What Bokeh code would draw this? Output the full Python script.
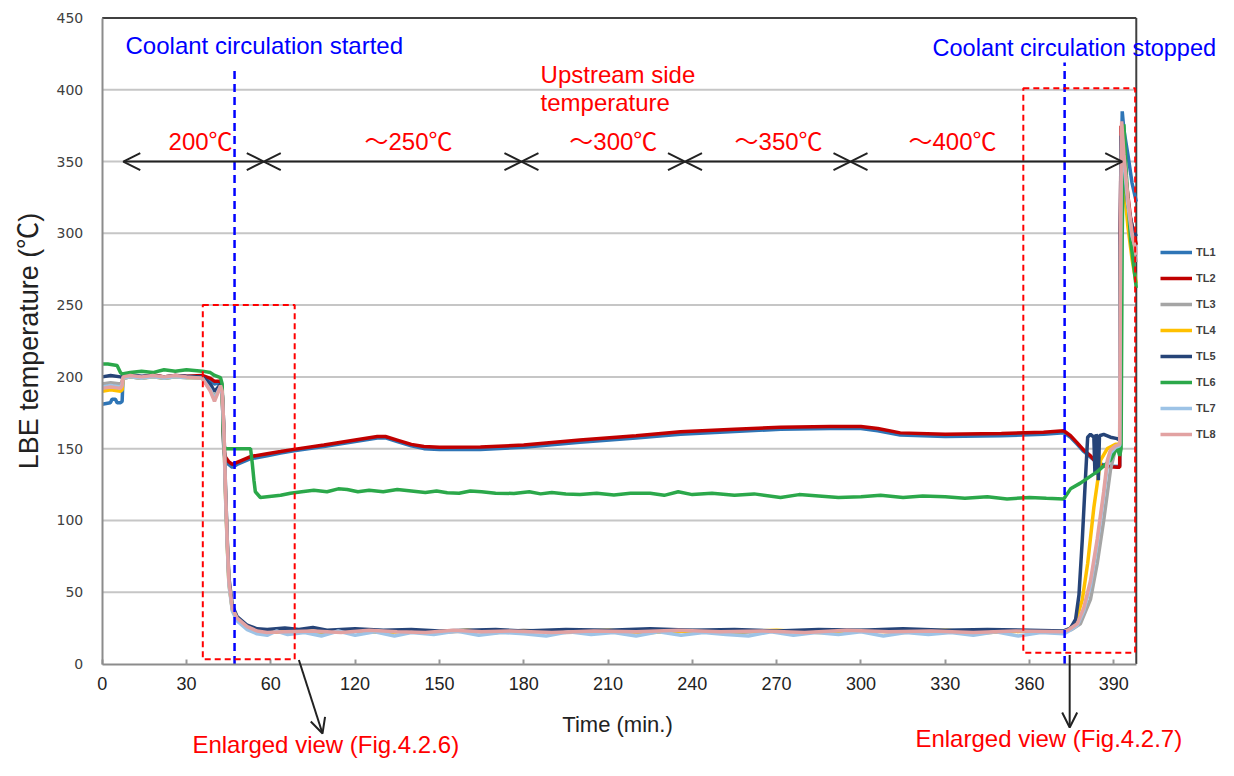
import math
from bokeh.plotting import figure
from bokeh.models import (Label, Arrow, OpenHead, BoxAnnotation, Legend,
                          LegendItem, FixedTicker)
from bokeh.embed import file_html
from bokeh.resources import INLINE

# ---------------- data (time on axis scale, temperature in degC) ----------------
x_tick_positions = [0, 30, 60, 90, 120, 150, 180, 210, 240, 270, 300, 330, 360]
x_tick_labels = ["0", "30", "60", "120", "150", "180", "210", "240", "270",
                 "300", "330", "360", "390"]
y_ticks = [0, 50, 100, 150, 200, 250, 300, 350, 400, 450]
time_end = 368
temp_top = 450

series_names = ["TL1", "TL2", "TL3", "TL4", "TL5", "TL6", "TL7", "TL8"]

TL1 = [(0,181),(2.9,182),(3.5,184.5),(4.7,184.5),(5.3,182),(6.5,182),(7.1,183),(7.4,199),
       (10,200),(14,199),(18,200.5),(22,199),(26,200),(30,199.5),(35.6,200),(38.5,198),
       (39.9,195),(42.1,196),(42.7,190),(43.3,147),(43.9,142),(45,139),(46.3,137),(48,139),
       (52.8,143),(58.7,145),(63.5,147),(68.2,148.5),(78.9,151.5),(90,155),(97.9,157.5),
       (100.8,157.5),(105,155),(110,152),(114.5,150),(120,149.5),(134.6,149.5),(150,151),
       (170,154.5),(190,157.5),(205.8,160),(225,162),(241.4,163.5),(259,164),(270,164),
       (276,162.5),(284,159.5),(300,158.5),(320,159),(335,160),(342.2,161),(344.6,158),
       (347,153),(349.3,148),(351.7,144),(354.1,140),(357.7,138),(361.2,137.5),(362.1,138),
       (362.6,330),(363.0,385),(363.6,372),(365,355),(366.5,335),(368,322)]

TL2 = [(0,194),(3,195),(6.5,195),(7.1,196),(7.4,200),(10,201),(14,200),(18,201.5),(22,200),
       (26,201),(30,200.5),(35.6,201),(38.5,199),(39.9,197),(42.1,197),(42.7,190),(43.3,149),
       (43.9,144),(45,141),(46.3,139),(48,140.5),(52.8,144.5),(58.7,146.5),(63.5,148),
       (68.2,149.5),(78.9,152.5),(90,156),(97.9,158.5),(100.8,158.5),(105,156),(110,153),
       (114.5,151.5),(120,151),(134.6,151.2),(150,152.5),(170,156),(190,159),(205.8,161.8),
       (225,163.5),(241.4,165),(259,165.5),(270,165.5),(276,164),(284,161),(300,160),
       (320,160.5),(335,161.5),(342.2,162.5),(344.6,159),(347,154),(349.3,149),(351.7,145),
       (353.5,141),(354.1,139),(357.7,137.5),(361.2,137),(362.1,137),(362.3,300),(362.6,375),
       (363.2,360),(364.5,335),(366,310),(368,292)]

TL3 = [(0,195),(3,196),(6.5,195),(7.1,196),(7.4,200),(10,200.5),(14,199.5),(18,200.5),
       (22,199.5),(26,200.5),(30,200),(35.6,199.5),(38.5,192),(39.96,186),(41,190),(42.1,194),
       (42.7,189),(43.3,162),(43.9,118),(44.5,84),(45.1,57),(46.3,38),(48,31),(51.6,25),
       (55.1,22.5),(58.7,22),(70,23),(80,22),(90,23),(100,22),(110,23.5),(120,22),(130,23),
       (140,22),(150,23.5),(165,22),(180,23),(195,22),(210,23.5),(225,22),(240,23),
       (255,22.5),(270,23.5),(285,22),(300,23),(315,22),(330,23),(342.2,22.5),(345,24),
       (348.1,28),(351.7,45),(354.1,70),(356.4,100),(358.8,135),(360.6,150),(362.1,154),
       (362.4,290),(362.8,370),(363.6,345),(365,315),(366.5,293),(368,280)]

TL4 = [(0,190),(3,191),(6.5,190),(7.1,191),(7.4,199),(10,200),(14,199),(18,200),(22,199),
       (26,200),(30,199.5),(35.6,199),(38.5,191),(39.96,185),(41,189),(42.1,193),(42.7,188),
       (43.3,161),(43.9,117),(44.5,83),(45.1,56),(46.3,38),(48,31),(51.6,25),(55.1,22.5),
       (58.7,22),(70,23),(80,22.5),(90,23.5),(100,22),(110,23),(120,22.5),(130,23.5),
       (140,22),(150,23),(165,22.5),(180,23.5),(195,22),(210,23),(225,22.5),(240,23.5),
       (255,22),(270,23),(285,22.5),(300,23.5),(315,22),(330,23),(342.2,22.5),(344,24),
       (346.4,29),(348.8,45),(350.7,70),(352.9,109),(355.3,142),(357.7,150),(360.6,153),
       (362.1,153),(362.4,280),(362.8,365),(363.6,335),(365,305),(366.5,282),(368,265)]

TL5 = [(0,200),(3,201),(6.5,200),(7.1,200),(7.4,201),(10,201.5),(14,200.5),(18,201),
       (22,200),(26,201),(30,200.5),(35.6,200),(38.5,195),(39.96,190),(41,192),(42.1,195),
       (42.7,190),(43.3,165),(43.9,122),(44.5,87),(45.1,60),(46.3,41),(48,33),(51.6,27),
       (55.1,24.5),(58.7,24),(65,25),(70,24),(75,25.5),(80,23.5),(90,24.5),(100,23.5),
       (110,24),(120,23),(130,23.5),(140,24),(150,23),(165,24),(180,23.5),(195,24.5),
       (210,23.5),(225,24),(240,23),(255,24),(270,23.5),(285,24.5),(300,23.5),(315,24),
       (330,23.5),(342.2,23),(344.6,25),(346.4,31),(347.6,48),(348.8,87),(349.9,129),
       (350.7,158),(351.7,160),(352.9,158),(353.3,132),(353.7,160),(354.1,157),(354.5,128),
       (354.9,159),(356.4,160),(358.8,158),(361.2,157),(362.1,156),(362.3,300),(362.6,368),
       (363.6,345),(365,320),(366.5,305),(368,298)]

TL6 = [(0,209),(2,209),(5.3,208),(6.5,203),(7.1,202),(10,203),(14,204),(18,203),(22,205),
       (26,204),(30,205),(35.6,204),(38.5,203),(40,201),(42.1,199.5),(42.7,195),(43,165),
       (43.3,152),(43.9,150),(48,150),(52.8,150),(53.4,140),(54,128),(54.5,120),(56.3,116),
       (58.7,116.5),(63.5,117.5),(67,119),(71,120),(75.3,121),(80,120),(84,122),(87.2,121.5),
       (91,120),(95,121),(100,120),(105,121.5),(110,120.5),(115,119.5),(119,120.5),
       (122.8,119.3),(127,119),(131,120.5),(135,120),(140,119),(146.5,118.8),(152,120),
       (156,118.5),(160,119.5),(165,118.5),(170,118),(176,119),(182.1,117.7),(188,119),
       (195,119),(200,117.5),(205,120),(210,118),(217,119),(225,117.5),(232,118.5),
       (241.4,116),(248,118),(255,117),(262,116),(270,116.5),(277,117.5),(285,116),
       (292,117),(300,116.5),(307,115.5),(315,116.5),(322,115),(330,116),(336,115.5),
       (342.2,115),(344.6,122),(348.1,126),(354.1,134),(358.8,142),(361.2,151),(362.1,145),
       (362.6,150),(363.0,300),(363.6,376),(364.5,340),(366,295),(368,262)]

TL7 = [(0,193),(3,194),(6.5,193),(7.1,195),(7.4,199),(10,200),(14,199),(18,200),(22,199),
       (26,200),(30,199.5),(35.6,199),(38.5,191),(39.96,185),(41,189),(42.1,193),(42.7,188),
       (43.3,160),(43.9,115),(44.5,82),(45.1,55),(46.3,37),(48,30),(51.6,24),(55.1,21),
       (58.7,20),(62,23),(66,20.5),(72,22),(78,19.5),(84,23),(90,20),(97,22.5),(104,19.5),
       (110,22),(118,20.5),(126,23),(134,20),(142,22),(150,21),(158,19.5),(166,22.5),
       (174,20.5),(182,22),(190,19.5),(198,22.5),(206,20),(214,22),(222,20.5),(230,19.5),
       (238,22.5),(246,20),(254,22),(262,20.5),(270,22.5),(278,19.5),(286,22),(294,20.5),
       (302,22),(310,20),(318,22.5),(326,19.5),(334,22),(342.2,21),(344,23),(347,27),
       (349.3,37),(351.7,55),(354.1,84),(356.4,117),(357.7,138),(358.8,147),(360.6,151),
       (362.1,152),(362.4,290),(362.8,372),(363.6,350),(365,320),(366.5,298),(368,288)]

TL8 = [(0,192),(3,193),(6.5,192),(7.1,194),(7.4,200),(10,201),(14,200),(18,201),(22,200),
       (26,201),(30,200),(35.6,199),(38.5,190),(39.96,183),(41,188),(42.1,194),(42.7,190),
       (43.3,165),(43.9,120),(44.5,85),(45.1,58),(46.3,39),(48,32),(51.6,26),(55.1,23),
       (58.7,22),(65,22.5),(75,23),(85,22),(95,23.5),(105,22.5),(115,22),(125,23.5),
       (135,22.5),(145,23),(160,22),(175,23),(190,22.5),(205,23.5),(220,22.5),(235,23),
       (250,22),(265,23.5),(280,22.5),(295,23),(310,22),(325,23),(342.2,22.5),(344,24),
       (347,28),(349.3,39),(351.7,58),(354.1,87),(356.4,120),(357.7,142),(358.8,149),
       (360.6,152),(362.1,153),(362.4,300),(362.8,378),(363.6,355),(365,325),(366.5,300),
       (368,285)]

series_data = [TL1, TL2, TL3, TL4, TL5, TL6, TL7, TL8]
series_colors = ["#2E75B6", "#C00000", "#A5A5A5", "#FFC000", "#264478", "#2BA84A",
                 "#9DC3E6", "#E2A2A2"]

range_bounds = [7.5, 57.5, 149.2, 207.4, 266.3, 363.0]
range_labels = ["200℃", "～250℃", "～300℃", "～350℃", "～400℃"]
range_label_x = [35.0, 109.0, 181.9, 240.7, 302.6]

coolant_start_time = 47.1
coolant_stop_time = 342.5

# ---------------- figure ----------------
# The frame covers the whole canvas; the axes sit at fixed data locations.
FONT = "Liberation Sans, Noto Sans CJK JP"
W, H = 1218, 760
left_px, bottom_px = 101.7, 663.5
px_per_x = 2.81
px_per_y = 646.0 / 450.0
x_rng = (-left_px / px_per_x, (W - left_px) / px_per_x)
y_rng = ((bottom_px - H) / px_per_y, bottom_px / px_per_y)

p = figure(width=W, height=H, x_range=x_rng, y_range=y_rng,
           output_backend="svg", toolbar_location=None,
           min_border_left=0, min_border_right=0, min_border_top=0,
           min_border_bottom=0)
p.title.visible = False
p.background_fill_color = "white"
p.border_fill_color = "white"
p.outline_line_color = None
p.xgrid.visible = False
p.ygrid.visible = False

# horizontal grid lines limited to the plot area
grid_vals = [v for v in y_ticks if 0 < v < temp_top]
p.segment(x0=[0] * len(grid_vals), y0=grid_vals, x1=[time_end] * len(grid_vals),
          y1=grid_vals, line_color="#C6C6C6", line_width=2)

p.xaxis.fixed_location = 0
p.xaxis.bounds = (0, time_end)
p.xaxis.ticker = FixedTicker(ticks=x_tick_positions)
p.xaxis.major_label_overrides = {t: l for t, l in zip(x_tick_positions, x_tick_labels)}
p.xaxis.minor_tick_line_color = None
p.xaxis.major_tick_in = 5
p.xaxis.major_tick_out = 0
p.xaxis.major_tick_line_color = "#999999"
p.xaxis.major_tick_line_width = 2
p.xaxis.axis_line_color = "#8C8C8C"
p.xaxis.axis_line_width = 2
p.xaxis.major_label_text_font = "Liberation Sans"
p.xaxis.major_label_text_font_size = "18px"
p.xaxis.major_label_text_color = "#222222"
p.xaxis.major_label_standoff = 13

p.yaxis.fixed_location = 0
p.yaxis.bounds = (0, temp_top)
p.yaxis.ticker = FixedTicker(ticks=y_ticks)
p.yaxis.minor_tick_line_color = None
p.yaxis.major_tick_line_color = None
p.yaxis.major_tick_in = 0
p.yaxis.major_tick_out = 0
p.yaxis.axis_line_color = "#8C8C8C"
p.yaxis.axis_line_width = 2
p.yaxis.major_label_text_font = "DejaVu Sans"
p.yaxis.major_label_text_font_size = "14px"
p.yaxis.major_label_text_color = "#404040"
p.yaxis.major_label_standoff = 19

# top and right plot-area border
p.segment(x0=[0, time_end], y0=[temp_top, 0], x1=[time_end, time_end], y1=[temp_top, temp_top],
          line_color="#404040", line_width=2)

# red dashed boxes (enlarged-view regions)
for l, r, b, t in [(35.8, 68.5, 3.3, 250), (327.8, 367.6, 7.9, 401)]:
    p.add_layout(BoxAnnotation(left=l, right=r, bottom=b, top=t, fill_alpha=0,
                               line_color="#FF0000", line_alpha=1.0, line_width=2,
                               line_dash="6 4"))

# series lines
items = []
for name, pts, col in zip(series_names, series_data, series_colors):
    xs = [a for a, _ in pts]
    ys = [b for _, b in pts]
    r = p.line(xs, ys, line_color=col, line_width=3.5)
    items.append(LegendItem(label=name, renderers=[r]))

# blue dashed coolant lines
p.segment(x0=[coolant_start_time, coolant_stop_time], y0=[0, 0],
          x1=[coolant_start_time, coolant_stop_time], y1=[413, 419],
          line_color="#0000FF", line_width=2.5, line_dash="8 5")

# temperature range arrows
for a, b in zip(range_bounds[:-1], range_bounds[1:]):
    p.add_layout(Arrow(x_start=a, y_start=350, x_end=b, y_end=350,
                       start=OpenHead(size=17, line_width=2, line_color="#222222"),
                       end=OpenHead(size=17, line_width=2, line_color="#222222"),
                       line_width=2, line_color="#222222"))

for lab, lx in zip(range_labels, range_label_x):
    p.add_layout(Label(x=lx, y=364.3, text=lab, text_align="center",
                       text_baseline="middle", text_color="#FF0000",
                       text_font=FONT, text_font_size="24px"))

def txt(x, y, s, color, size="24px", align="left", angle=0.0):
    p.add_layout(Label(x=x, y=y, text=s, text_align=align, text_baseline="middle",
                       text_color=color, text_font=FONT, text_font_size=size,
                       angle=angle))

txt(8.3, 430.5, "Coolant circulation started", "#0000FF")
txt(295.5, 429.1, "Coolant circulation stopped", "#0000FF", "23.5px")
txt(156.0, 410.3, "Upstream side", "#FF0000")
txt(156.0, 390.8, "temperature", "#FF0000")
txt(32.1, -56.1, "Enlarged view (Fig.4.2.6)", "#FF0000")
txt(289.4, -51.9, "Enlarged view (Fig.4.2.7)", "#FF0000")
txt(183.4, -42.1, "Time (min.)", "#222222", "22px", "center")
txt(-26.2, 225.0, "LBE temperature (℃)", "#222222", "27px", "center", math.pi / 2)

# arrows pointing to enlarged views
p.add_layout(Arrow(x_start=70.0, y_start=2.8, x_end=78.4, y_end=-48.4,
                   end=OpenHead(size=15, line_width=2, line_color="#222222"),
                   line_width=2, line_color="#222222"))
p.add_layout(Arrow(x_start=344.3, y_start=6.3, x_end=344.3, y_end=-44.2,
                   end=OpenHead(size=15, line_width=2, line_color="#222222"),
                   line_width=2, line_color="#222222"))

legend = Legend(items=items, location=(1160, 316), glyph_width=32, glyph_height=20,
                label_height=20, spacing=6, padding=0, margin=0, label_standoff=4,
                label_text_font="Liberation Sans", label_text_font_size="11px",
                label_text_font_style="bold", label_text_color="#404040",
                border_line_color=None, background_fill_alpha=0)
p.add_layout(legend)

open("out.html", "w").write(file_html(p, INLINE))
